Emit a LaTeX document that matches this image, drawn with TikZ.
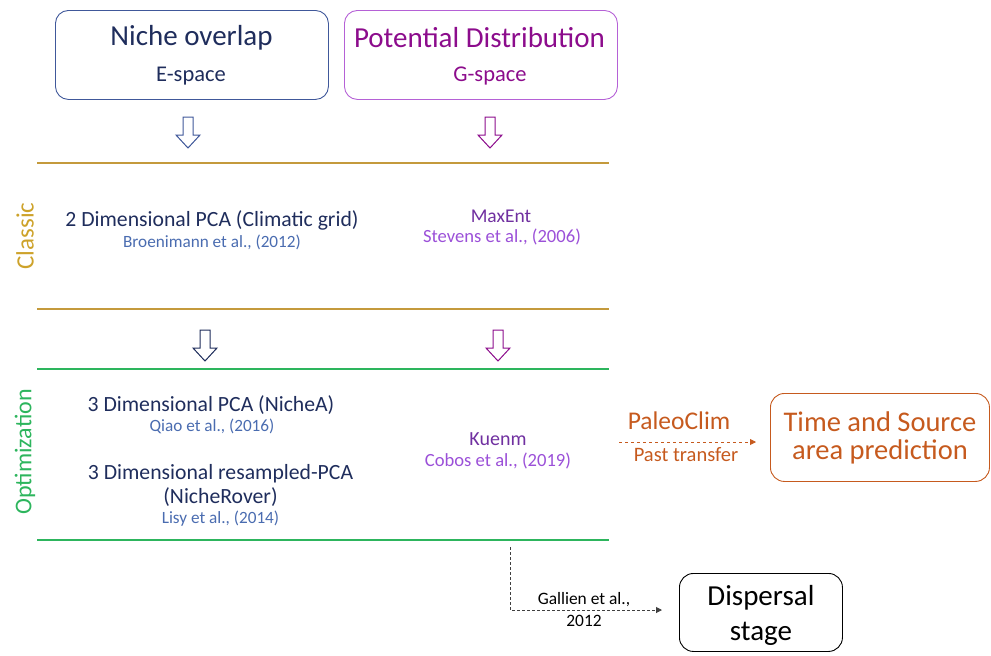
\documentclass[tikz,border=0pt]{standalone}
\usepackage{fontspec}
\setmainfont{Carlito}
\usetikzlibrary{arrows.meta}
\definecolor{navy}{HTML}{1F2D5C}
\definecolor{citeblue}{HTML}{4A6CB0}
\definecolor{boxblue}{HTML}{40589A}
\definecolor{pdist}{HTML}{8C0C8C}
\definecolor{boxpurple}{HTML}{B561D6}
\definecolor{maxent}{HTML}{7030A0}
\definecolor{citepurple}{HTML}{9B50D8}
\definecolor{gold}{HTML}{C49A3C}
\definecolor{goldtext}{HTML}{CDA22A}
\definecolor{green}{HTML}{2DB55D}
\definecolor{orange}{HTML}{C65A1E}
\definecolor{dgray}{HTML}{404040}
\tikzset{
  topbox/.style={draw, rounded corners=13pt, line width=0.9pt, minimum width=273pt, minimum height=89pt, anchor=north west},
  divider/.style={line width=1.1pt},
  txt/.style={inner sep=0pt, align=center},
  hollowarrow/.pic={
    \draw[line width=1pt, fill=white, pic actions]
      (-5,0) -- (5,0) -- (5,18) -- (12,18) -- (0,31) -- (-12,18) -- (-5,18) -- cycle;
  }
}
\begin{document}
\begin{tikzpicture}[x=1pt,y=-1pt]
\useasboundingbox (0,0) rectangle (991,656);
% top boxes
\node[topbox, draw=boxblue] (ebox) at (55,10) {};
\node[topbox, draw=boxpurple] (gbox) at (344,10) {};
\node[txt, text=navy, font=\fontsize{29}{33}\selectfont] (niche) at (191.5,38) {Niche overlap};
\node[txt, text=navy, font=\fontsize{22.5}{26}\selectfont] (espace) at (191,76) {E-space};
\node[txt, text=pdist, font=\fontsize{29}{33}\selectfont] (pot) at (479.5,38) {Potential Distribution};
\node[txt, text=pdist, font=\fontsize{22.5}{26}\selectfont] (gspace) at (490,76) {G-space};
% hollow arrows
\pic[draw=boxblue] (a1) at (188,117) {hollowarrow};
\pic[draw=pdist] (a2) at (490,117) {hollowarrow};
\pic[draw=navy] (a3) at (205,330) {hollowarrow};
\pic[draw=pdist] (a4) at (498,330) {hollowarrow};
% divider lines
\coordinate (l1a) at (37,163); \coordinate (l1b) at (609,163);
\coordinate (l2a) at (37,309); \coordinate (l2b) at (609,309);
\coordinate (l3a) at (37,369); \coordinate (l3b) at (609,369);
\coordinate (l4a) at (37,540); \coordinate (l4b) at (609,540);
\draw[divider, gold] (l1a) -- (l1b);
\draw[divider, gold] (l2a) -- (l2b);
\draw[divider, green] (l3a) -- (l3b);
\draw[divider, green] (l4a) -- (l4b);
% side labels
\node[txt, rotate=90, text=goldtext, font=\fontsize{25}{28}\selectfont] (classic) at (25,236) {Classic};
\node[txt, rotate=90, text=green, font=\fontsize{24}{28}\selectfont] (optim) at (25,452) {Optimization};
% classic content
\node[txt, text=navy, font=\fontsize{21.7}{25}\selectfont] (pca2) at (212,220) {2 Dimensional PCA (Climatic grid)};
\node[txt, text=citeblue, font=\fontsize{17.2}{20}\selectfont] (broen) at (212,242) {Broenimann et al., (2012)};
\node[txt, text=maxent, font=\fontsize{19.5}{24}\selectfont] (maxent) at (501,216) {MaxEnt};
\node[txt, text=citepurple, font=\fontsize{18.6}{21}\selectfont] (stevens) at (502,237) {Stevens et al., (2006)};
% optimization content
\node[txt, text=navy, font=\fontsize{21.7}{25}\selectfont] (pca3) at (211,405) {3 Dimensional PCA (NicheA)};
\node[txt, text=citeblue, font=\fontsize{17.2}{20}\selectfont] (qiao) at (212,426) {Qiao et al., (2016)};
\node[txt, text=navy, font=\fontsize{21.7}{25}\selectfont] (pca3r) at (220.5,474) {3 Dimensional resampled-PCA};
\node[txt, text=navy, font=\fontsize{21.7}{25}\selectfont] (rover) at (220.5,497) {(NicheRover)};
\node[txt, text=citeblue, font=\fontsize{17.2}{20}\selectfont] (lisy) at (220.5,519) {Lisy et al., (2014)};
\node[txt, text=maxent, font=\fontsize{20}{24}\selectfont] (kuenm) at (498,439) {Kuenm};
\node[txt, text=citepurple, font=\fontsize{18.6}{21}\selectfont] (cobos) at (498,461) {Cobos et al., (2019)};
% PaleoClim
\node[draw=orange, rounded corners=14pt, line width=0.9pt, minimum width=219pt, minimum height=88pt, anchor=north west] (tsbox) at (770,393) {};
\node[txt, text=orange, font=\fontsize{28.5}{28}\selectfont] (tstext) at (tsbox.center) {Time and Source\\area prediction};
\node[txt, text=orange, font=\fontsize{25.5}{28}\selectfont] (paleo) at (679,421) {PaleoClim};
\node[txt, text=orange, font=\fontsize{20.5}{24}\selectfont] (past) at (686,455) {Past transfer};
\coordinate (pstart) at (619,442);
\coordinate (pend) at (756,442);
\draw[orange, dashed, line width=0.9pt, -{Triangle[length=6pt,width=6pt]}] (pstart) -- (pend);
% dispersal
\node[draw=black, rounded corners=14pt, line width=0.9pt, minimum width=163pt, minimum height=78pt, anchor=north west] (dbox) at (679,573) {};
\node[txt, text=black, font=\fontsize{29}{35}\selectfont] (dtext) at ([yshift=-3pt]dbox.center) {Dispersal\\stage};
\coordinate (dstart) at (510,547);
\coordinate (dcorner) at (510,610);
\coordinate (dend) at (662,610);
\draw[dgray, dash pattern=on 3pt off 2pt, line width=1pt, -{Triangle[length=6pt,width=6pt]}] (dstart) -- (dcorner) -- (dend);
\node[txt, text=black, font=\fontsize{17.4}{20}\selectfont] (gallien) at (584,600) {Gallien et al.,};
\node[txt, text=black, font=\fontsize{17.4}{20}\selectfont] (g2012) at (584,621) {2012};
\end{tikzpicture}
\end{document}
